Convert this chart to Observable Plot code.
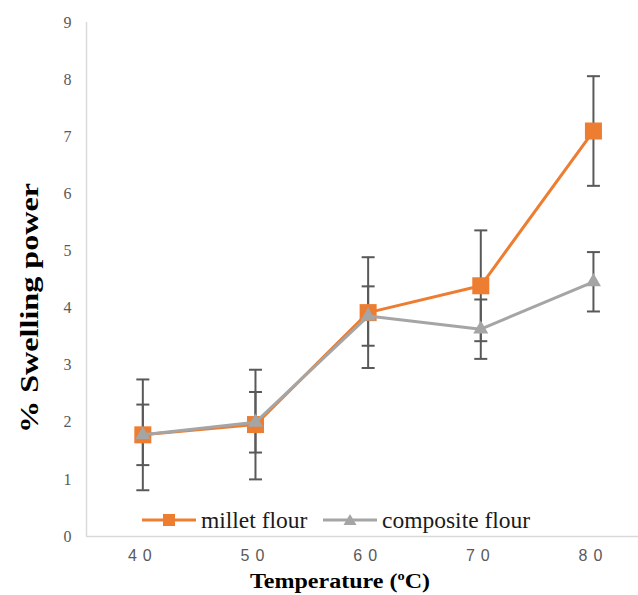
<!DOCTYPE html>
<html>
<head>
<meta charset="utf-8">
<script src="https://cdn.jsdelivr.net/npm/d3@7"></script>
<script src="https://cdn.jsdelivr.net/npm/@observablehq/plot@0.6"></script>
<style>
  html, body { margin: 0; padding: 0; background: #fff; }
  #wrap { position: relative; width: 638px; height: 595px; }
  .leg { position: absolute; display: flex; align-items: center; font-family: "Liberation Serif", "DejaVu Serif", serif; font-size: 23.5px; color: #1a1a1a; white-space: nowrap; }
  .leg svg { display: block; margin-right: 5px; }
  g[aria-label="x-axis tick label"] text { letter-spacing: 6px; font-family: "Liberation Sans", sans-serif; }
  g[aria-label="y-axis tick label"] text { font-family: "Liberation Serif", serif; }
</style>
</head>
<body>
<div id="wrap"></div>
<script>
// ---- data ----
const temps = [40, 50, 60, 70, 80];
const millet = [1.78, 1.96, 3.92, 4.39, 7.10];
const milletErr = [0.97, 0.96, 0.97, 0.97, 0.96];
const composite = [1.78, 2.00, 3.86, 3.63, 4.46];
const compositeErr = [0.53, 0.53, 0.52, 0.52, 0.52];
const seriesNames = ["millet flour", "composite flour"];
const seriesColors = ["#ED7D31", "#A5A5A5"];
const yTicks = [0, 1, 2, 3, 4, 5, 6, 7, 8, 9];
const xTicks = [40, 50, 60, 70, 80];
const yLabel = "% Swelling power";
const xLabelParts = ["Temperature (", "o", "C)"];

const milletRows = temps.map((t, i) => ({t, v: millet[i], e: milletErr[i]}));
const compRows = temps.map((t, i) => ({t, v: composite[i], e: compositeErr[i]}));
const allRows = milletRows.concat(compRows);

const errColor = "#595959";
const capSymbol = { draw(ctx) { ctx.moveTo(-6.5, 0); ctx.lineTo(6.5, 0); } };

const chart = Plot.plot({
  width: 638,
  height: 595,
  marginLeft: 86,
  marginRight: 0,
  marginTop: 22,
  marginBottom: 59,
  style: { background: "#fff", overflow: "visible" },
  x: { domain: [35, 84], axis: null },
  y: { domain: [0, 9], axis: null },
  marks: [
    Plot.ruleX([35], { stroke: "#d9d9d9", strokeWidth: 1.5 }),
    Plot.ruleY([0], { stroke: "#d9d9d9", strokeWidth: 1.5 }),
    Plot.axisY({ ticks: yTicks, tickSize: 0, tickPadding: 15, tickFormat: d => String(d),
      fontFamily: "Liberation Serif", fontSize: 16, color: errColor, label: null }),
    Plot.axisX({ ticks: xTicks, tickSize: 0, tickPadding: 13, tickFormat: d => String(d),
      fontFamily: "Liberation Sans", fontSize: 16, color: errColor, label: null }),
    // error bars
    Plot.ruleX(allRows, { x: "t", y1: d => d.v - d.e, y2: d => d.v + d.e, stroke: errColor, strokeWidth: 2 }),
    Plot.dot(allRows, { x: "t", y: d => d.v + d.e, symbol: capSymbol, r: 5, fill: "none", stroke: errColor, strokeWidth: 2 }),
    Plot.dot(allRows, { x: "t", y: d => d.v - d.e, symbol: capSymbol, r: 5, fill: "none", stroke: errColor, strokeWidth: 2 }),
    // millet
    Plot.line(milletRows, { x: "t", y: "v", stroke: seriesColors[0], strokeWidth: 3 }),
    Plot.dot(milletRows, { x: "t", y: "v", symbol: "square", r: 9.6, fill: seriesColors[0], stroke: "none" }),
    // composite
    Plot.line(compRows, { x: "t", y: "v", stroke: seriesColors[1], strokeWidth: 3 }),
    Plot.dot(compRows, { x: "t", y: "v", symbol: "triangle", r: 5.6, fill: seriesColors[1], stroke: "none" })
  ]
});

const svg = d3.select(chart);
// axis titles (stretched like the reference)
svg.append("text")
  .attr("transform", "translate(29,308) rotate(-90)")
  .attr("text-anchor", "middle")
  .attr("dominant-baseline", "central")
  .attr("font-family", "Liberation Serif")
  .attr("font-weight", "bold")
  .attr("font-size", 25)
  .attr("fill", "#000")
  .attr("textLength", 250)
  .attr("lengthAdjust", "spacingAndGlyphs")
  .text(yLabel);

const xt = svg.append("text")
  .attr("x", 340).attr("y", 588)
  .attr("text-anchor", "middle")
  .attr("font-family", "Liberation Serif")
  .attr("font-weight", "bold")
  .attr("font-size", 20)
  .attr("fill", "#000")
  .attr("textLength", 180)
  .attr("lengthAdjust", "spacingAndGlyphs");
xt.append("tspan").text(xLabelParts[0]);
xt.append("tspan").attr("font-size", 12).attr("dy", -8).text(xLabelParts[1]);
xt.append("tspan").attr("dy", 8).text(xLabelParts[2]);

const wrap = document.getElementById("wrap");
wrap.appendChild(chart);

// legend
const legPos = [142, 323];
seriesNames.forEach((name, i) => {
  const div = document.createElement("div");
  div.className = "leg";
  div.style.left = legPos[i] + "px";
  div.style.top = "507px";
  div.style.height = "26px";
  const marker = i === 0
    ? `<rect x="21" y="4" width="12" height="12" fill="${seriesColors[i]}"/>`
    : `<path d="M27,4 L33.5,15 L20.5,15 Z" fill="${seriesColors[i]}"/>`;
  div.innerHTML = `<svg width="54" height="20"><line x1="0" y1="10" x2="54" y2="10" stroke="${seriesColors[i]}" stroke-width="3"/>${marker}</svg><span>${name}</span>`;
  wrap.appendChild(div);
});
</script>
</body>
</html>
